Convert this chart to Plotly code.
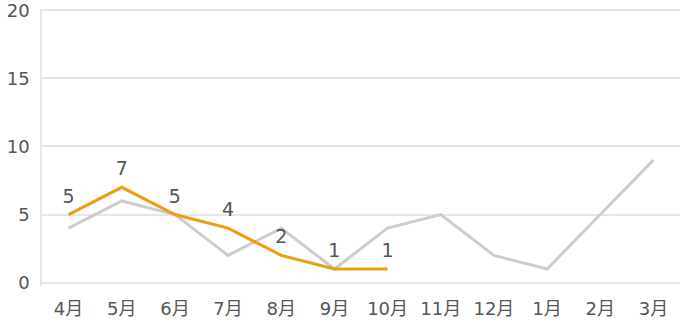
import plotly.graph_objects as go

months = ["4月", "5月", "6月", "7月", "8月", "9月", "10月", "11月", "12月", "1月", "2月", "3月"]
prev_year = [4, 6, 5, 2, 4, 1, 4, 5, 2, 1, 5, 9]
this_year = [5, 7, 5, 4, 2, 1, 1]
y_ticks = [0, 5, 10, 15, 20]

font_family = "DejaVu Sans, Noto Sans CJK JP, sans-serif"

fig = go.Figure()
fig.add_trace(go.Scatter(
    x=months, y=prev_year, mode="lines",
    line=dict(color="#cccccc", width=3),
    hoverinfo="skip", showlegend=False,
))
fig.add_trace(go.Scatter(
    x=months[:len(this_year)], y=this_year, mode="lines+markers+text",
    line=dict(color="#ee9d12", width=3),
    marker=dict(size=10, color="rgba(0,0,0,0)"),
    text=[str(v) for v in this_year], textposition="top center",
    textfont=dict(size=19, color="#555555", family=font_family),
    showlegend=False,
))

fig.update_layout(
    width=685, height=323,
    margin=dict(l=42, r=5, t=9, b=37),
    plot_bgcolor="white", paper_bgcolor="white",
    font=dict(family=font_family, color="#555555"),
)
fig.update_xaxes(
    type="category", categoryorder="array", categoryarray=months,
    range=[-0.5, 11.5], showgrid=False, showline=False, zeroline=False,
    automargin=False,
    tickfont=dict(size=18, color="#555555"), ticks="", ticklabelstandoff=10,
)
fig.update_yaxes(
    range=[-0.25, 20.1], tickvals=y_ticks, showgrid=True, gridcolor="#e6e6e6", gridwidth=1.5,
    zeroline=True, zerolinecolor="#e6e6e6", zerolinewidth=1.5,
    showline=True, linecolor="#e6e6e6", linewidth=1.5, ticklabeloverflow="allow",
    automargin=False,
    tickfont=dict(size=18, color="#555555"), ticks="", ticklabelstandoff=7,
)

fig.write_html("out.html")
